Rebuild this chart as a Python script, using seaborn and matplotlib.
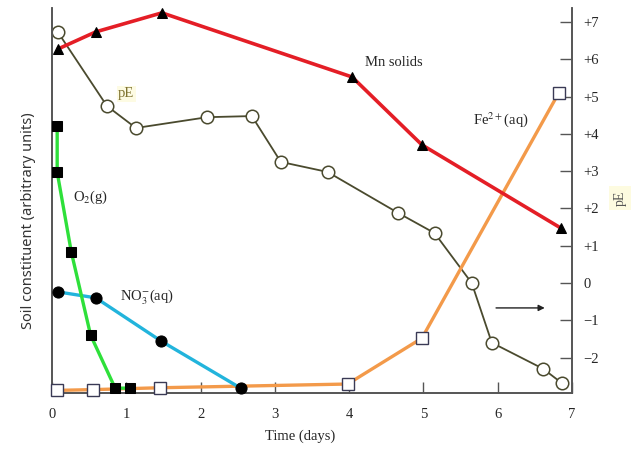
import numpy as np
import pandas as pd
import matplotlib
matplotlib.use('Agg')
import matplotlib.pyplot as plt
import seaborn as sns

# data (time in days, left axis arbitrary units, right axis pE)
pe_days = [0.08, 0.74, 1.13, 2.09, 2.69, 3.08, 3.71, 4.66, 5.15, 5.65, 5.92, 6.61, 6.86]
pe_vals = [6.73, 4.75, 4.16, 4.45, 4.48, 3.25, 2.98, 1.88, 1.34, 0.0, -1.6, -2.3, -2.68]

mn_days = [0.08, 0.59, 1.48, 4.04, 4.98, 6.85]
mn_vals = [9.22, 9.68, 10.19, 8.47, 6.65, 4.42]

o2_days = [0.07, 0.07, 0.26, 0.52, 0.85, 1.05]
o2_vals = [7.16, 5.92, 3.78, 1.55, 0.13, 0.13]

no3_days = [0.08, 0.59, 1.47, 2.54]
no3_vals = [2.71, 2.55, 1.39, 0.13]

fe_days = [0.07, 0.55, 1.45, 3.98, 4.98, 6.82]
fe_vals = [0.07, 0.09, 0.14, 0.24, 1.47, 8.04]

x_ticks = [0, 1, 2, 3, 4, 5, 6, 7]
pe_ticks = [-2, -1, 0, 1, 2, 3, 4, 5, 6, 7]
pe_labels = ['\u22122', '\u22121', '0', '+1', '+2', '+3', '+4', '+5', '+6', '+7']

sns.set_style('white')
plt.rcParams['font.family'] = ['Liberation Serif', 'DejaVu Serif']
plt.rcParams['mathtext.fontset'] = 'stix'

fig = plt.figure(figsize=(6.37, 4.54), dpi=100)
ax = fig.add_axes([0.0816, 0.1344, 0.8164, 0.8480])
ax2 = ax.twinx()

df_mn = pd.DataFrame({'day': mn_days, 'amount': mn_vals})
df_o2 = pd.DataFrame({'day': o2_days, 'amount': o2_vals})
df_no3 = pd.DataFrame({'day': no3_days, 'amount': no3_vals})
df_fe = pd.DataFrame({'day': fe_days, 'amount': fe_vals})
df_pe = pd.DataFrame({'day': pe_days, 'pE': pe_vals})

# pE on the right axis
sns.lineplot(x='day', y='pE', data=df_pe, ax=ax2, sort=False, estimator=None,
             color='#4a4a2e', lw=1.3, marker='o', markersize=9, clip_on=False,
             markerfacecolor='white', markeredgecolor='#4a4a2e', markeredgewidth=1.1, zorder=2)

sns.lineplot(x='day', y='amount', data=df_fe, ax=ax, sort=False, estimator=None,
             color='#f39a4a', lw=2.4, marker='s', markersize=8, clip_on=False,
             markerfacecolor='white', markeredgecolor='#3a3a55', markeredgewidth=1.0, zorder=3)
sns.lineplot(x='day', y='amount', data=df_no3, ax=ax, sort=False, estimator=None,
             color='#22b4dc', lw=2.4, marker='o', markersize=8, clip_on=False,
             markerfacecolor='black', markeredgecolor='black', zorder=4)
sns.lineplot(x='day', y='amount', data=df_o2, ax=ax, sort=False, estimator=None,
             color='#2ee03a', lw=2.4, marker='s', markersize=7.5, clip_on=False,
             markerfacecolor='black', markeredgecolor='black', zorder=5)
sns.lineplot(x='day', y='amount', data=df_mn, ax=ax, sort=False, estimator=None,
             color='#e41e26', lw=2.6, marker='^', markersize=7.5, clip_on=False,
             markerfacecolor='black', markeredgecolor='black', zorder=6)

ax.set_zorder(ax2.get_zorder() + 1)
ax.patch.set_visible(False)

ax.set_xlim(0, 7)
ax.set_ylim(0, 10.32)
ax2.set_ylim(-2.95, 7.38)

ax.set_xticks(x_ticks)
ax.set_xticklabels([str(t) for t in x_ticks])
ax.set_yticks([])
ax2.set_yticks(pe_ticks)
ax2.set_yticklabels(pe_labels)

ax.tick_params(axis='x', direction='in', length=8, width=1, color='#555555',
               pad=11, labelsize=10.5, bottom=True)
ax2.tick_params(axis='y', direction='in', length=9, width=1, color='#555555',
                pad=8, labelsize=10.5, right=True)

for a in (ax, ax2):
    a.spines['top'].set_visible(False)
    for s in ('left', 'right', 'bottom'):
        a.spines[s].set_color('#555555')
        a.spines[s].set_linewidth(1.2)

ax.set_xlabel('Time (days)', fontsize=10.5)
ax.xaxis.set_label_coords(0.477, -0.095)
ax.set_ylabel('Soil constituent (arbitrary units)', fontsize=10.5, color='#333333',
              family=['Noto Sans', 'DejaVu Sans'])
ax.yaxis.set_label_coords(-0.03, 0.447)
ax2.set_ylabel('')

# curve labels
ax.text(4.6, 8.85, 'Mn solids', fontsize=10.5, ha='center', va='center')
ax.text(1.0, 8.02, 'pE', fontsize=10.5, ha='center', va='center', color='#7f7330',
        bbox=dict(facecolor='#fdfbe3', edgecolor='none', pad=1))
ax.text(0.28, 5.25, r'O$_2$(g)', fontsize=10.5, ha='left', va='center')
ax.text(0.92, 2.57, r'NO$_3^{-}$(aq)', fontsize=10.5, ha='left', va='center')
ax.text(5.67, 7.32, r'Fe$^{2+}$(aq)', fontsize=10.5, ha='left', va='center')
ax.annotate('', xy=(6.67, 2.28), xytext=(5.94, 2.28),
            arrowprops=dict(arrowstyle='-|>', color='#222222', lw=1.0, mutation_scale=9))

fig.text(620 / 637, 1 - 198 / 454, 'pE', rotation=90, fontsize=10, ha='center', va='center',
         color='#555555', bbox=dict(facecolor='#fdfbe0', edgecolor='none', pad=3))

fig.savefig('out.png', dpi=100)
